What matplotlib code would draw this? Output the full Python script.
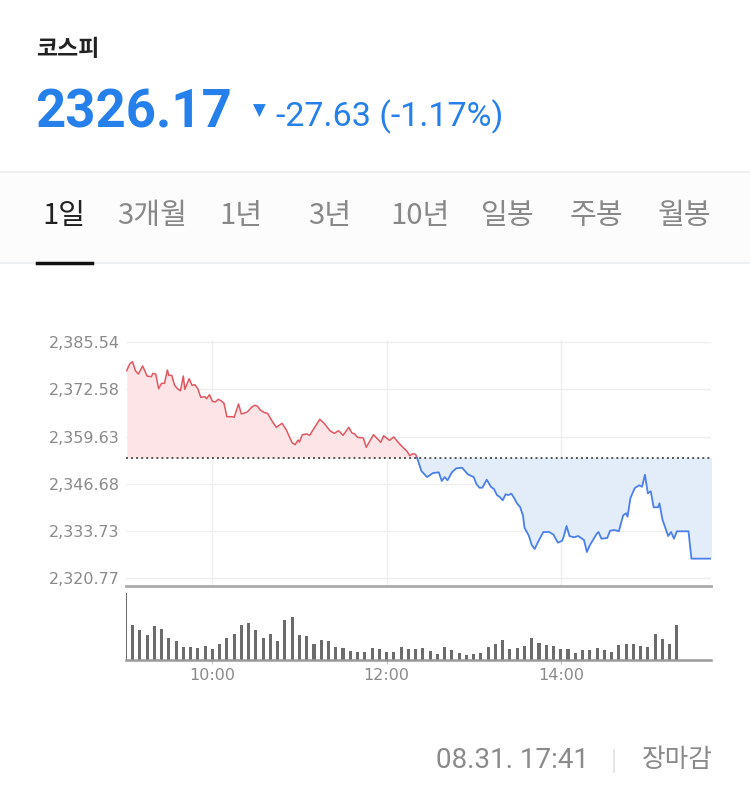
import numpy as np
import matplotlib
matplotlib.use('Agg')
import matplotlib.pyplot as plt
from matplotlib.patches import Rectangle
from matplotlib.lines import Line2D

plt.rcParams['font.family'] = ['DejaVu Sans']

# index info
index_name = '코스피'
last_price = 2326.17
change = -27.63
change_pct = -1.17
prev_close = 2353.80
stamp = '08.31. 17:41'
status = '장마감'
tabs = ['1일', '3개월', '1년', '3년', '10년', '일봉', '주봉', '월봉']

# intraday price, minutes after 09:00
minute = [1, 3, 5, 7, 9, 12, 15, 18, 19, 21,
          23, 25, 27, 29, 30, 32, 34, 36, 38, 40,
          41, 44, 46, 48, 50, 52, 55, 56, 58, 60,
          62, 64, 66, 68, 70, 74, 75, 78, 80, 84,
          87, 89, 91, 93, 96, 98, 101, 104, 108, 111,
          113, 115, 117, 119, 120, 122, 125, 127, 129, 134,
          137, 141, 144, 147, 150, 154, 156, 158, 160, 164,
          166, 171, 175, 176, 178, 182, 185, 188, 191, 194,
          196, 198, 200, 201, 204, 207, 208, 212, 216, 218,
          220, 222, 225, 228, 232, 234, 236, 240, 242, 244,
          246, 249, 252, 254, 256, 258, 260, 262, 264, 266,
          268, 270, 272, 274, 275, 278, 280, 282, 285, 288,
          292, 295, 298, 301, 302, 304, 306, 309, 312, 316,
          318, 320, 325, 326, 328, 332, 334, 337, 340, 343,
          345, 346, 348, 351, 354, 356, 358, 360, 362, 364,
          367, 368, 370, 374, 376, 378, 380, 388, 390, 404]
price = [2377.68, 2379.51, 2380.14, 2377.68, 2376.77, 2378.96, 2376.22, 2376.04, 2376.96, 2376.77,
         2372.74, 2374.22, 2374.22, 2377.87, 2376.41, 2376.41, 2373.67, 2372.74, 2372.19, 2376.22,
         2372.58, 2375.48, 2373.67, 2373.84, 2372.74, 2370.38, 2370.55, 2370.00, 2371.10, 2369.29,
         2369.10, 2369.84, 2369.45, 2368.74, 2365.07, 2365.07, 2364.90, 2368.55, 2365.81, 2366.36,
         2367.64, 2368.19, 2368.00, 2366.90, 2366.17, 2366.00, 2363.97, 2362.16, 2363.26, 2361.42,
         2359.59, 2357.94, 2357.40, 2358.68, 2358.14, 2360.14, 2360.33, 2359.97, 2361.23, 2364.36,
         2363.26, 2361.23, 2360.52, 2361.23, 2359.97, 2362.16, 2360.68, 2360.33, 2359.42, 2359.23,
         2356.68, 2360.14, 2358.49, 2358.05, 2359.86, 2358.60, 2359.51, 2358.05, 2356.77, 2355.67,
         2354.38, 2354.93, 2354.76, 2353.83, 2350.19, 2348.90, 2348.54, 2349.64, 2349.83, 2347.45,
         2348.54, 2347.64, 2349.83, 2350.93, 2351.09, 2350.19, 2349.28, 2348.54, 2346.54, 2345.61,
         2345.61, 2347.80, 2345.80, 2345.26, 2343.61, 2343.06, 2342.16, 2343.80, 2343.61, 2343.97,
         2342.71, 2341.23, 2340.32, 2337.94, 2334.65, 2332.46, 2329.91, 2328.81, 2331.28, 2333.47,
         2333.47, 2332.73, 2330.54, 2331.09, 2332.18, 2335.12, 2332.37, 2332.02, 2332.37, 2331.28,
         2327.99, 2329.83, 2333.11, 2333.47, 2331.63, 2331.83, 2333.83, 2334.02, 2333.66, 2338.05,
         2338.60, 2337.66, 2342.79, 2345.53, 2346.27, 2345.88, 2349.17, 2344.08, 2344.62, 2340.24,
         2340.24, 2341.34, 2336.95, 2332.37, 2333.47, 2331.63, 2333.66, 2333.66, 2326.17, 2326.17]

# volume per 5 minutes (relative), plus closing auction bar
vol_minute = list(range(0, 380, 5)) + [380]
volume = [199, 105, 90, 75, 102, 93, 66, 57, 39, 39, 36, 42, 33, 48, 66, 78, 105, 111, 90, 66,
          78, 57, 120, 128, 75, 72, 48,
          60, 57, 39, 36, 27, 24, 24, 36, 33, 24, 24, 39, 33, 33, 36, 27, 18, 39, 30, 21,
          15, 18, 21, 39, 48, 60, 33,
          36, 42, 66, 51, 45, 42, 33, 33, 21, 30, 30, 36, 30, 24, 45, 48, 48, 42, 39, 78,
          63, 48,
          105]

y_ticks = [2320.77, 2333.73, 2346.68, 2359.63, 2372.58, 2385.54]
x_ticks = [60, 180, 300]
x_labels = ['10:00', '12:00', '14:00']

W, H = 750, 788
def fx(x):
    return x / W
def fy(y):
    return 1 - y / H

fig = plt.figure(figsize=(7.5, 7.88), dpi=100)
fig.patch.set_facecolor('white')

kr = ['Noto Sans CJK KR', 'DejaVu Sans']
num = ['Roboto', 'DejaVu Sans']
blue_txt = '#2680eb'
grey_txt = '#8a8a8a'

# header
fig.text(fx(36), fy(49), index_name, family=kr, fontsize=16.5, weight='bold',
         color='#222222', va='center', ha='left')
fig.text(fx(35), fy(128), f'{last_price:.2f}', family=num, fontsize=38, weight='bold',
         color=blue_txt, va='baseline', ha='left')
fig.text(fx(259), fy(111), '▼', family=['DejaVu Sans'], fontsize=12,
         color=blue_txt, va='center', ha='center')
fig.text(fx(276), fy(126), f'{change:.2f} ({change_pct:.2f}%)', family=num, fontsize=24.5,
         color=blue_txt, va='baseline', ha='left')

# tab bar
fig.add_artist(Rectangle((0, fy(263)), 1, (263 - 172) / H, transform=fig.transFigure,
                         facecolor='#fcfcfc', edgecolor='none', zorder=0))
fig.add_artist(Line2D([0, 1], [fy(172), fy(172)], color='#eceef0', lw=1.5))
fig.add_artist(Line2D([0, 1], [fy(263), fy(263)], color='#eceef0', lw=1.5))
fig.add_artist(Line2D([fx(37), fx(92)], [fy(263), fy(263)], color='#111111', lw=2.5))
tab_x = [64, 152, 241, 330, 420, 508, 596, 685]
for i, (t, x) in enumerate(zip(tabs, tab_x)):
    fig.text(fx(x), fy(216), t, family=kr, fontsize=21,
             color='#222222' if i == 0 else '#888888', va='center', ha='center')

# price chart
ax = fig.add_axes([fx(126), fy(586), 585 / W, 246 / H])
mins = np.array(minute)
vals = np.array(price)
ax.fill_between(mins, vals, prev_close, where=vals >= prev_close, interpolate=True,
                color='#fde5e7', lw=0)
ax.fill_between(mins, vals, prev_close, where=vals <= prev_close, interpolate=True,
                color='#e3ecf9', lw=0)
cut = int(np.argmax(vals < prev_close))
ax.plot(mins[:cut], vals[:cut], color='#e2575f', lw=1.1, zorder=3)
ax.plot(mins[cut - 1:], vals[cut - 1:], color='#4b80ea', lw=1.3, zorder=3)
ax.axhline(prev_close, color='#555555', lw=1.4, linestyle=(0, (1, 1.6)), zorder=4)

ax.set_xlim(0.5, 403.5)
ax.set_ylim(2318.67, 2386.1)
ax.set_yticks(y_ticks)
ax.set_yticklabels([f'{v:,.2f}' for v in y_ticks])
ax.set_xticks(x_ticks)
ax.set_xticklabels([])
ax.grid(True, color='#eeeeee', lw=1)
ax.set_axisbelow(True)
ax.tick_params(axis='both', length=0, colors=grey_txt, labelsize=11.5)
ax.tick_params(axis='y', pad=4.5)
for s in ['top', 'left', 'right']:
    ax.spines[s].set_visible(False)
ax.spines['bottom'].set_color('#aaaaaa')
ax.spines['bottom'].set_linewidth(2)

# volume chart
axv = fig.add_axes([fx(126), fy(660), 585 / W, 72 / H])
axv.bar(vol_minute, volume, width=2.1, color='#6b6b6b', align='center')
axv.set_xlim(0.5, 403.5)
axv.set_ylim(0, 214)
axv.set_yticks([])
axv.set_xticks(x_ticks)
axv.set_xticklabels(x_labels)
axv.tick_params(axis='x', length=3, color='#bbbbbb', labelcolor=grey_txt, labelsize=11.5, pad=2.5)
for s in ['top', 'left', 'right']:
    axv.spines[s].set_visible(False)
axv.spines['bottom'].set_color('#999999')
axv.spines['bottom'].set_linewidth(1.8)

# footer
fig.text(fx(589), fy(760), stamp, family=num, fontsize=20, color='#8a8a8a',
         va='center', ha='right')
fig.add_artist(Line2D([fx(614), fx(614)], [fy(750), fy(772)], color='#e2e2e2', lw=1.2))
fig.text(fx(713), fy(760), status, family=kr, fontsize=18.5, color='#8a8a8a',
         va='center', ha='right')

fig.savefig('out.png', dpi=100)
